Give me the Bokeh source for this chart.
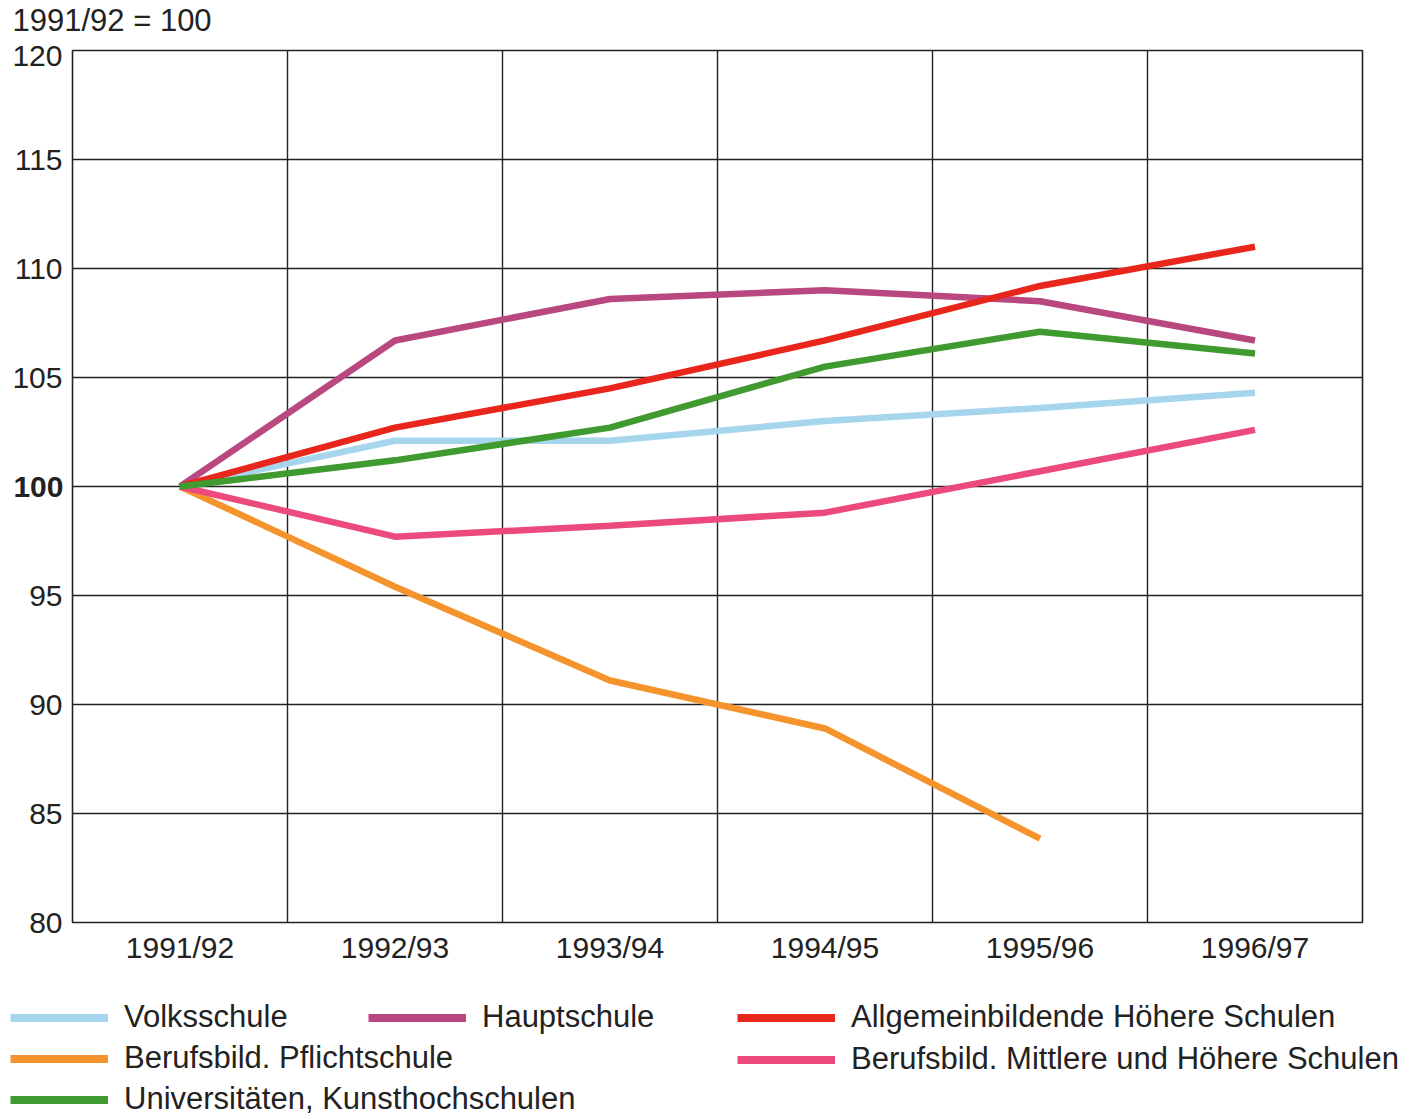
from bokeh.plotting import figure
from bokeh.models import (FactorRange, Range1d, FixedTicker, Legend, LegendItem, LinearAxis, Label)
from bokeh.layouts import column, row
from bokeh.embed import file_html
from bokeh.resources import INLINE

years = ["1991/92", "1992/93", "1993/94", "1994/95", "1995/96", "1996/97"]
volksschule = [100, 102.1, 102.1, 103.0, 103.6, 104.3]
hauptschule = [100, 106.7, 108.6, 109.0, 108.5, 106.7]
ahs = [100, 102.7, 104.5, 106.7, 109.2, 111.0]
pflichtschule = [100, 95.4, 91.1, 88.9, 83.85]
bmhs = [100, 97.7, 98.2, 98.8, 100.7, 102.6]
uni = [100, 101.2, 102.7, 105.5, 107.1, 106.1]
y_ticks = [80, 85, 90, 95, 100, 105, 110, 115, 120]
base_tick = [100]

FONT = "Liberation Sans"
FS = "30px"
FSL = "31px"
TXT = "#222222"
W = 1414


def bare(fig):
    fig.outline_line_color = None
    fig.border_fill_color = "white"
    fig.background_fill_color = "white"
    fig.grid.visible = False


# header
hp = figure(width=W, height=38, output_backend="svg", toolbar_location=None,
            x_axis_location=None, y_axis_location=None,
            x_range=Range1d(0, 1), y_range=Range1d(0, 1),
            min_border_left=0, min_border_right=0, min_border_top=0, min_border_bottom=0)
bare(hp)
hp.add_layout(Label(x=12, y=18, x_units="screen", y_units="screen", text="1991/92 = 100",
                    text_font=FONT, text_font_size=FSL, text_align="left",
                    text_baseline="middle", text_color=TXT))

# main chart
p = figure(x_range=FactorRange(*years), y_range=Range1d(80, 120),
           width=W, height=937, output_backend="svg", toolbar_location=None,
           min_border_left=72, min_border_right=52, min_border_top=12, min_border_bottom=53)
p.outline_line_color = "#222222"
p.outline_line_width = 1.6
p.border_fill_color = "white"

p.xgrid.ticker = FixedTicker(ticks=[1, 2, 3, 4, 5])
p.xgrid.grid_line_color = "#222222"
p.xgrid.grid_line_width = 1.4
p.ygrid.ticker = FixedTicker(ticks=y_ticks)
p.ygrid.grid_line_color = "#222222"
p.ygrid.grid_line_width = 1.4

p.yaxis.ticker = FixedTicker(ticks=y_ticks)
p.yaxis.major_label_overrides = {100: " "}

bold_axis = LinearAxis(ticker=FixedTicker(ticks=base_tick))
p.add_layout(bold_axis, "left")

for ax in (p.xaxis[0], p.yaxis[0], bold_axis):
    ax.axis_line_color = None
    ax.major_tick_line_color = None
    ax.minor_tick_line_color = None
    ax.major_tick_out = 0
    ax.major_tick_in = 0
    ax.major_label_text_font = FONT
    ax.major_label_text_font_size = FS
    ax.major_label_text_color = TXT
p.yaxis[0].major_label_standoff = 10
bold_axis.major_label_text_font_style = "bold"
bold_axis.major_label_standoff = -54
p.xaxis.major_label_standoff = 8

series = [
    ("Volksschule", volksschule, "#a6d6ee"),
    ("Hauptschule", hauptschule, "#b8487f"),
    ("Allgemeinbildende Höhere Schulen", ahs, "#e8261c"),
    ("Berufsbild. Pflichtschule", pflichtschule, "#f5932c"),
    ("Berufsbild. Mittlere und Höhere Schulen", bmhs, "#ec4a7c"),
    ("Universitäten, Kunsthochschulen", uni, "#3f9a2f"),
]
for name, vals, col in series:
    p.line(years[:len(vals)], vals, line_color=col, line_width=6.5)

# legend panel (same series drawn outside its visible range; only legend shows)
lp = figure(width=W, height=142, output_backend="svg", toolbar_location=None,
            x_axis_location=None, y_axis_location=None,
            x_range=FactorRange(*years), y_range=Range1d(0, 1),
            min_border_left=0, min_border_right=0, min_border_top=0, min_border_bottom=0)
bare(lp)
r = {}
for name, vals, col in series:
    r[name] = lp.line(years[:len(vals)], vals, line_color=col, line_width=8)


def mk_legend(names, loc, spacing):
    lg = Legend(items=[LegendItem(label=n, renderers=[r[n]]) for n in names],
                location=loc, orientation="vertical", padding=0, margin=0,
                spacing=spacing, glyph_width=98, glyph_height=31, label_standoff=16,
                label_text_font=FONT, label_text_font_size=FSL, label_text_color=TXT,
                background_fill_alpha=0, border_line_color=None)
    lp.add_layout(lg, "center")


mk_legend(["Volksschule", "Berufsbild. Pflichtschule", "Universitäten, Kunsthochschulen"], (10, 0), 5)
mk_legend(["Hauptschule"], (368, 82), 5)
mk_legend(["Allgemeinbildende Höhere Schulen", "Berufsbild. Mittlere und Höhere Schulen"], (737, 40), 6)

layout = column(row(hp), p, row(lp), spacing=0)
open("out.html", "w").write(file_html(layout, INLINE))
